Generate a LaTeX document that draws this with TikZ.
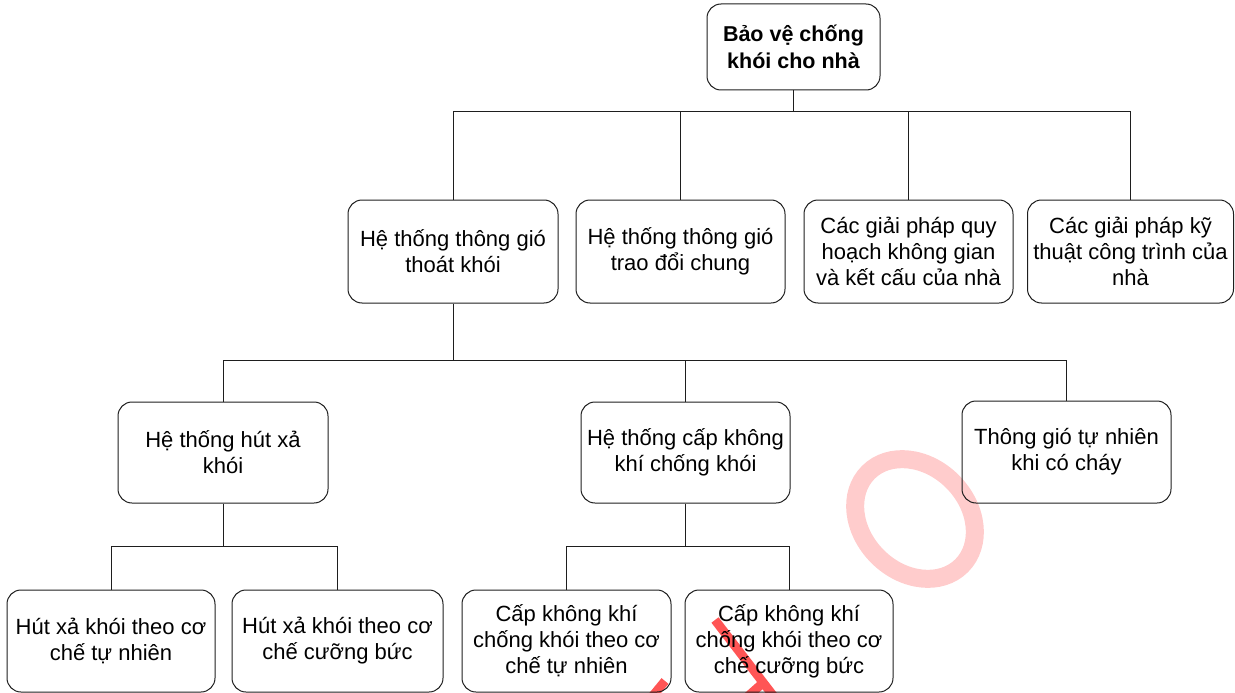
\documentclass[tikz,border=0pt]{standalone}
\usepackage{fontspec}
\setmainfont{Liberation Sans}
\definecolor{wmring}{RGB}{255,204,204}
\definecolor{wmline}{RGB}{255,85,85}
\definecolor{edge}{RGB}{30,30,30}
\begin{document}
\begin{tikzpicture}[x=1pt,y=-1pt,
  box/.style={draw=edge,line width=1pt,rounded corners=14pt,inner sep=0pt,
    align=center,font=\fontsize{22}{26}\selectfont},
  wide/.style={minimum width=209pt,minimum height=103pt},
  link/.style={draw=edge,line width=1pt}]
\useasboundingbox (0,0) rectangle (1235,693);
\begin{scope}
\clip (0,0) rectangle (1235,693);
% watermark
\draw[wmring,line width=18pt] (915,519) ellipse[x radius=66,y radius=53,rotate=-45];
\draw[wmline,line width=9pt] (715,620) -- (775,698);
\draw[wmline,line width=9pt] (764,682) -- (746,698);
\draw[wmline,line width=9pt] (665,681) -- (651,698);
\end{scope}
% nodes
\node[box,minimum width=173pt,minimum height=86pt,font=\fontsize{21.5}{27}\selectfont\bfseries] (root) at (793.5,47) {Bảo vệ chống\\khói cho nhà};
\node[box,wide,minimum width=210pt] (b1) at (453,251.5) {Hệ thống thông gió\\thoát khói};
\node[box,wide] (b2) at (680.5,251.5) {Hệ thống thông gió\\trao đổi chung};
\node[box,wide] (b3) at (908.5,251.5) {Các giải pháp quy\\hoạch không gian\\và kết cấu của nhà};
\node[box,wide,minimum width=206pt] (b4) at (1130.5,251.5) {Các giải pháp kỹ\\thuật công trình của\\nhà};
\node[box,wide,minimum width=210pt,minimum height=101pt] (b5) at (223,452.5) {Hệ thống hút xả\\khói};
\node[box,wide,minimum height=101pt] (b6) at (685.5,452.5) {Hệ thống cấp không\\khí chống khói};
\node[box,wide,minimum height=102pt] (b7) at (1066.5,452) {Thông gió tự nhiên\\khi có cháy};
\node[box,wide,minimum width=208pt,minimum height=102pt] (b8) at (111,641) {Hút xả khói theo cơ\\chế tự nhiên};
\node[box,wide,minimum width=211pt,minimum height=102pt] (b9) at (337.5,641) {Hút xả khói theo cơ\\chế cưỡng bức};
\node[box,wide,minimum height=102pt] (b10) at (566.5,641) {Cấp không khí\\chống khói theo cơ\\chế tự nhiên};
\node[box,wide,minimum width=208pt,minimum height=102pt] (b11) at (789,641) {Cấp không khí\\chống khói theo cơ\\chế cưỡng bức};
% connectors
\coordinate (bar1) at (793.5,111);
\coordinate (bar2) at (453,360);
\coordinate (bar3) at (223,546);
\coordinate (bar4) at (685.5,546);
\draw[link] (root.south) -- (bar1);
\draw[link] (b1.north) |- (b4.north |- bar1) -- (b4.north);
\draw[link] (b2.north) -- (b2.north |- bar1);
\draw[link] (b3.north) -- (b3.north |- bar1);
\draw[link] (b1.south) -- (bar2);
\draw[link] (b5.north) |- (b7.north |- bar2) -- (b7.north);
\draw[link] (b6.north) -- (b6.north |- bar2);
\draw[link] (b5.south) -- (bar3);
\draw[link] (b8.north) |- (b9.north |- bar3) -- (b9.north);
\draw[link] (b6.south) -- (bar4);
\draw[link] (b10.north) |- (b11.north |- bar4) -- (b11.north);
\end{tikzpicture}
\end{document}
